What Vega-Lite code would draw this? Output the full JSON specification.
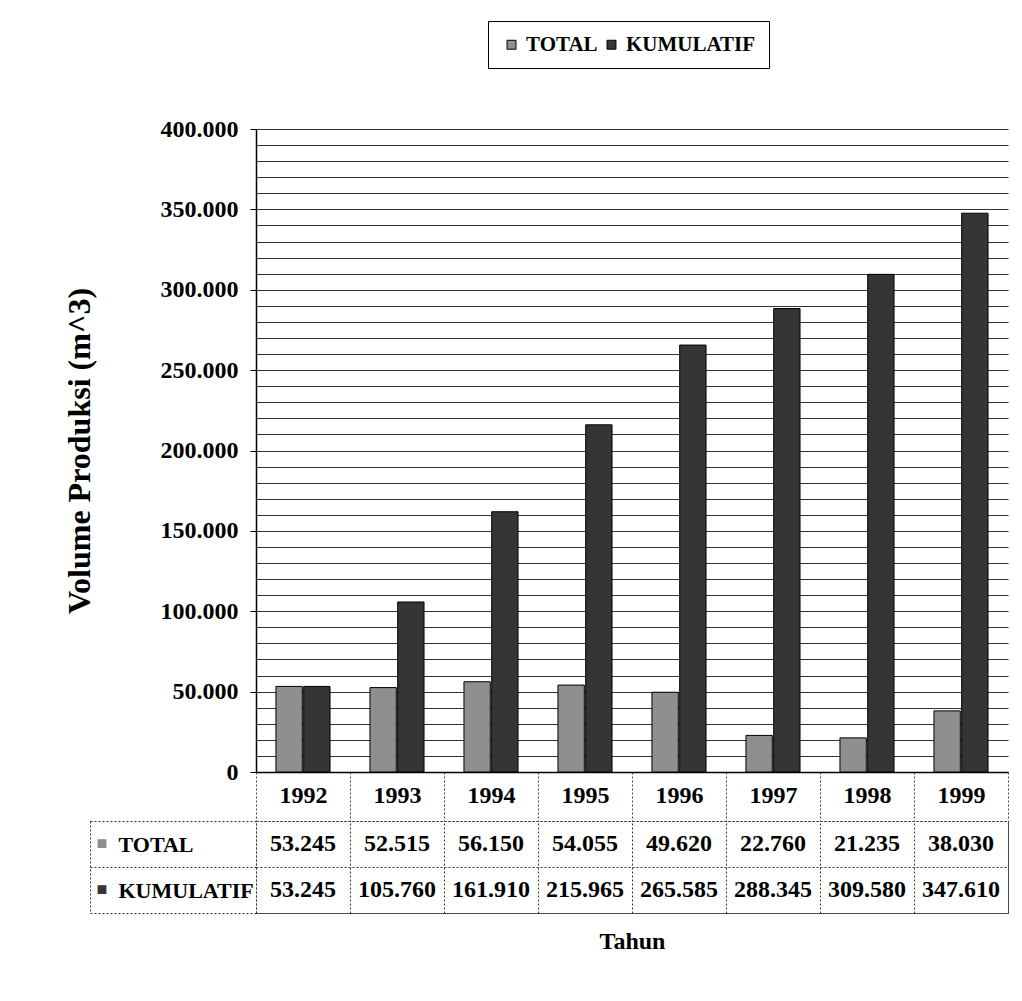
{
  "$schema": "https://vega.github.io/schema/vega-lite/v6.json",
  "padding": {"left": 63, "top": 20, "right": 10, "bottom": 10},
  "background": "white",
  "config": {
    "font": "Liberation Serif",
    "locale": {"number": {"decimal": ",", "thousands": ".", "grouping": [3], "currency": ["", ""]}},
    "axis": {"labelFont": "Liberation Serif", "titleFont": "Liberation Serif", "labelFontWeight": "bold", "titleFontWeight": "bold", "labelColor": "black", "titleColor": "black"},
    "legend": {"labelFont": "Liberation Serif", "labelFontWeight": "bold", "labelColor": "black"}
  },
  "data": {"values": [
    {"year": "1992", "series": "TOTAL", "value": 53245},
    {"year": "1992", "series": "KUMULATIF", "value": 53245},
    {"year": "1993", "series": "TOTAL", "value": 52515},
    {"year": "1993", "series": "KUMULATIF", "value": 105760},
    {"year": "1994", "series": "TOTAL", "value": 56150},
    {"year": "1994", "series": "KUMULATIF", "value": 161910},
    {"year": "1995", "series": "TOTAL", "value": 54055},
    {"year": "1995", "series": "KUMULATIF", "value": 215965},
    {"year": "1996", "series": "TOTAL", "value": 49620},
    {"year": "1996", "series": "KUMULATIF", "value": 265585},
    {"year": "1997", "series": "TOTAL", "value": 22760},
    {"year": "1997", "series": "KUMULATIF", "value": 288345},
    {"year": "1998", "series": "TOTAL", "value": 21235},
    {"year": "1998", "series": "KUMULATIF", "value": 309580},
    {"year": "1999", "series": "TOTAL", "value": 38030},
    {"year": "1999", "series": "KUMULATIF", "value": 347610}
  ]},
  "spacing": 49,
  "bounds": "flush",
  "resolve": {"scale": {"x": "independent", "y": "independent"}},
  "vconcat": [
    {
      "width": 752,
      "height": 643,
      "view": {"stroke": null},
      "mark": {"type": "bar", "stroke": "black", "strokeWidth": 1},
      "encoding": {
        "x": {"field": "year", "type": "nominal", "scale": {"paddingInner": 0, "paddingOuter": 0},
          "axis": {"title": null, "labelAngle": 0, "labelFontSize": 24, "labelPadding": -38, "tickBand": "extent", "tickSize": 49, "tickColor": "#444", "tickDash": [2, 2], "domainColor": "black", "domainWidth": 1.5}},
        "xOffset": {"field": "series", "type": "nominal", "sort": ["TOTAL", "KUMULATIF"], "scale": {"paddingOuter": 0.72, "paddingInner": 0.05}},
        "y": {"field": "value", "type": "quantitative", "scale": {"domain": [0, 400000], "nice": false},
          "axis": {"values": [0, 10000, 20000, 30000, 40000, 50000, 60000, 70000, 80000, 90000, 100000, 110000, 120000, 130000, 140000, 150000, 160000, 170000, 180000, 190000, 200000, 210000, 220000, 230000, 240000, 250000, 260000, 270000, 280000, 290000, 300000, 310000, 320000, 330000, 340000, 350000, 360000, 370000, 380000, 390000, 400000],
            "format": ",d", "labelExpr": "datum.value % 50000 === 0 ? datum.label : ''", "labelFontSize": 24, "tickSize": 6,
            "tickOpacity": {"condition": {"test": "datum.value % 50000 === 0", "value": 1}, "value": 0},
            "labelPadding": 12, "grid": true, "gridColor": "#333", "gridWidth": 1, "gridOpacity": 1, "domainColor": "black", "domainWidth": 1.5, "tickColor": "black",
            "title": "Volume Produksi (m^3)", "titleFontSize": 32, "titlePadding": 64}},
        "color": {"field": "series", "type": "nominal", "scale": {"domain": ["TOTAL", "KUMULATIF"], "range": ["#8f8f8f", "#353535"]},
          "legend": {"title": null, "orient": "none", "legendX": 232, "legendY": -108, "direction": "horizontal", "labelFontSize": 21, "symbolType": "square", "symbolSize": 80, "symbolStrokeColor": "black", "symbolStrokeWidth": 1, "strokeColor": "black", "padding": 13, "columnPadding": 3, "labelOffset": 4}}
      }
    },
    {
      "width": 752,
      "height": 92,
      "view": {"stroke": "#333", "strokeDash": [2, 2]},
      "resolve": {"axis": {"y": "independent"}},
      "layer": [
        {
          "mark": {"type": "text", "font": "Liberation Serif", "fontWeight": "bold", "fontSize": 24, "color": "black"},
          "encoding": {
            "x": {"field": "year", "type": "nominal", "scale": {"paddingInner": 0, "paddingOuter": 0},
              "axis": {"orient": "bottom", "labels": false, "ticks": false, "domain": false, "grid": true, "tickBand": "extent", "gridColor": "#333", "gridDash": [2, 2], "title": "Tahun", "titleFontSize": 24, "titlePadding": 16}},
            "y": {"field": "series", "type": "nominal", "sort": ["TOTAL", "KUMULATIF"],
              "axis": {"title": null, "orient": "left", "offset": 166, "tickBand": "extent", "tickSize": -166, "tickColor": "#333", "tickDash": [2, 2], "domainColor": "#333", "domainDash": [2, 2], "labelAlign": "left", "labelPadding": 138, "labelFontSize": 22, "grid": true, "gridColor": "#333", "gridDash": [2, 2]}},
            "text": {"field": "value", "type": "quantitative", "format": ",d"}
          }
        },
        {
          "mark": {"type": "text", "opacity": 0},
          "encoding": {
            "x": {"field": "year", "type": "nominal"},
            "y": {"field": "series", "type": "nominal", "sort": ["TOTAL", "KUMULATIF"],
              "axis": {"title": null, "orient": "left", "offset": 166, "ticks": false, "domain": false, "grid": false, "labelAlign": "left", "labelPadding": -6, "labelFontSize": 18, "labelExpr": "datum.label ? '■' : ''",
                "labelColor": {"condition": {"test": "datum.value === 'TOTAL'", "value": "#8f8f8f"}, "value": "#353535"}}},
            "text": {"field": "value", "type": "quantitative"}
          }
        }
      ]
    }
  ]
}
